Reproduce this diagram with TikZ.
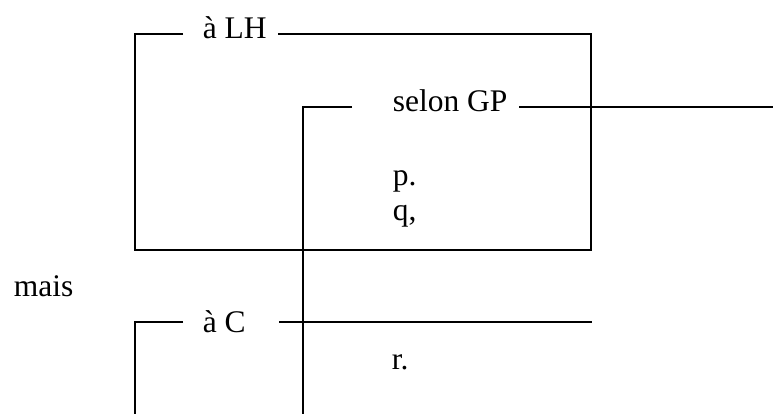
\documentclass[tikz,border=0pt]{standalone}
\usepackage{fontspec}
\setmainfont{Liberation Serif}

\begin{document}
\begin{tikzpicture}[x=1bp, y=-1bp, line width=1.6bp, line join=miter,
    lbl/.style={anchor=base west, inner sep=0pt, font=\fontsize{31.6}{36}\selectfont}]
    \useasboundingbox (0,0) rectangle (773,414);
    % Labels, placed on their baselines
    \node[lbl] (lh)   at (202,38.5) {à LH};
    \node[lbl] (gp)   at (392,111.5) {selon GP};
    \node[lbl] (p)    at (392,185) {p.};
    \node[lbl] (q)    at (392,220) {q,};
    \node[lbl] (mais) at (13,296) {mais};
    \node[lbl] (ac)   at (202,332) {à C};
    \node[lbl] (r)    at (391,369) {r.};
    % Frame corners
    \coordinate (lhtl) at (135,34);
    \coordinate (lhbr) at (591,250);
    \coordinate (gptl) at (303,107);
    \coordinate (actl) at (135,322);
    % Frame of "a LH": open round its label
    \draw (183,34) -- (lhtl) -- (lhtl |- lhbr) -- (lhbr) -- (lhbr |- lhtl) -- (278,34);
    % Frame of "selon GP": runs off the right and the bottom
    \draw (352,107) -- (gptl) -- (303,414);
    \draw (519,107) -- (773,107);
    % Frame of "a C"
    \draw (183,322) -- (actl) -- (135,414);
    \draw (279,322) -- (592,322);
\end{tikzpicture}
\end{document}
